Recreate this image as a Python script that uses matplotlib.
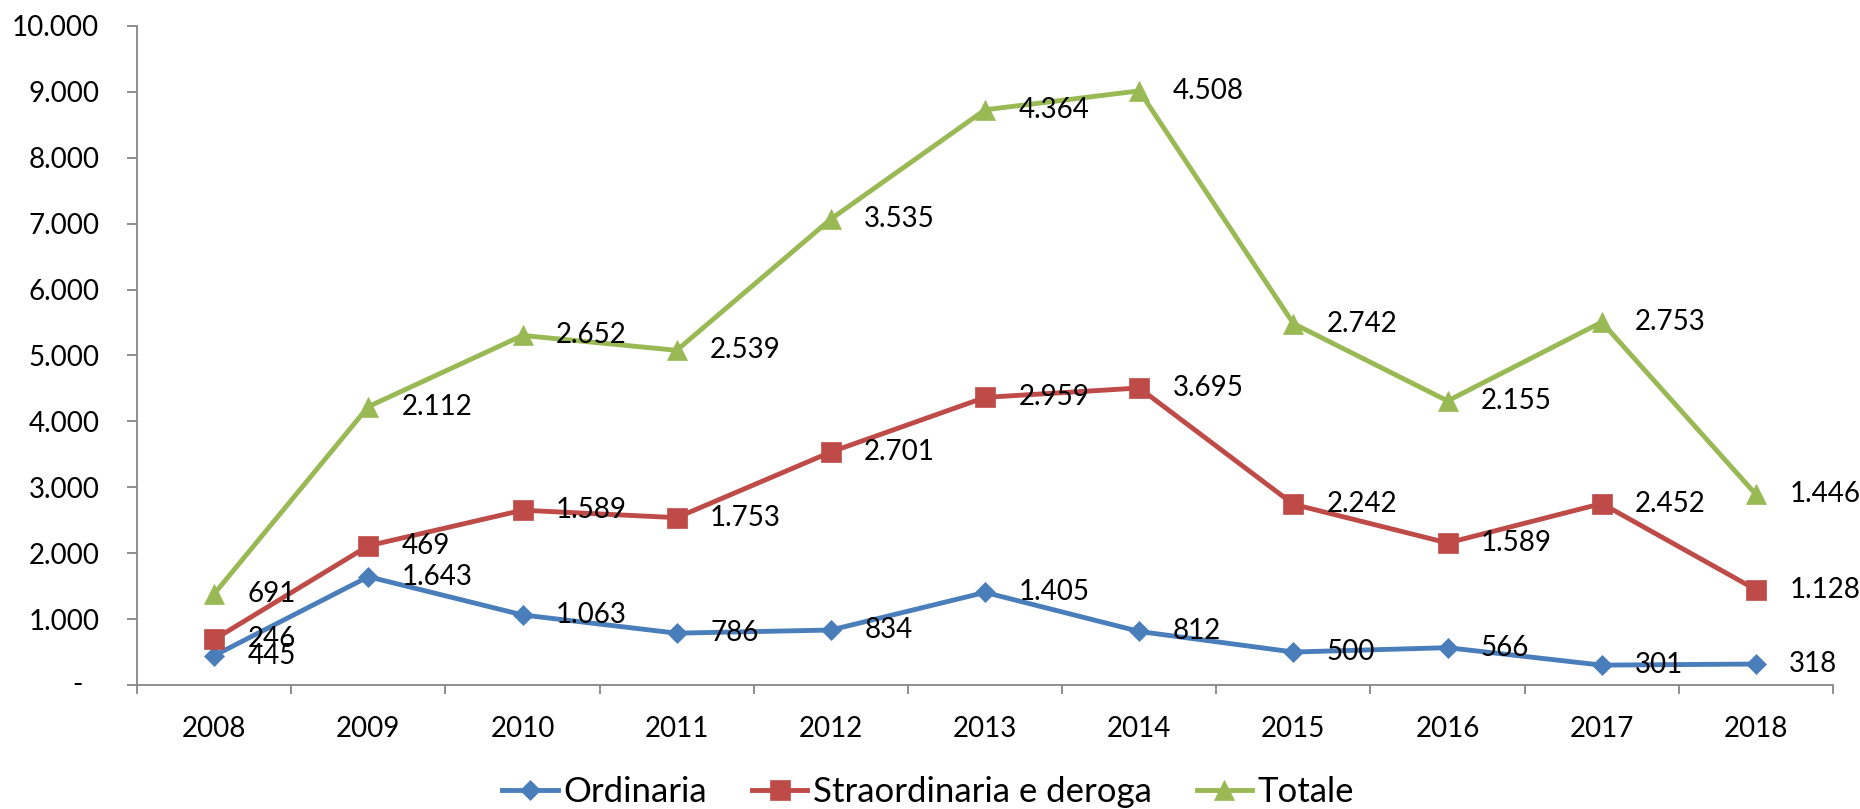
import numpy as np
import matplotlib
matplotlib.use("Agg")
import matplotlib.pyplot as plt
from matplotlib.ticker import FixedLocator, FuncFormatter

plt.rcParams["font.family"] = ["Lato", "DejaVu Sans"]

# Data (each series' own values; the chart stacks them)
years = ["2008", "2009", "2010", "2011", "2012", "2013", "2014", "2015", "2016", "2017", "2018"]
ordinaria = [445, 1643, 1063, 786, 834, 1405, 812, 500, 566, 301, 318]
straordinaria = [246, 469, 1589, 1753, 2701, 2959, 3695, 2242, 1589, 2452, 1128]
totale = [691, 2112, 2652, 2539, 3535, 4364, 4508, 2742, 2155, 2753, 1446]

names = ["Ordinaria", "Straordinaria e deroga", "Totale"]
colors = ["#4A7EBB", "#BE4B48", "#98B954"]
markers = ["D", "s", "^"]
msizes = [10, 14, 15]

def it_num(v):
    return f"{int(v):,}".replace(",", ".")

fig = plt.figure(figsize=(18.6, 8.09), dpi=100)
ax = fig.add_axes([0.0737, 0.1533, 0.9118, 0.8146])

x = np.arange(len(years))
series = [np.array(ordinaria), np.array(straordinaria), np.array(totale)]
stacked = np.cumsum(series, axis=0)

for vals, ys, name, c, m, ms in zip(series, stacked, names, colors, markers, msizes):
    ax.plot(x, ys, color=c, lw=3.5, marker=m, ms=ms, mec=c, mew=0.5, label=name)
    for xi, yi, v in zip(x, ys, vals):
        ax.annotate(it_num(v), (xi, yi), xytext=(24, 0), textcoords="offset points",
                    ha="left", va="center", fontsize=20, color="black")

ax.set_xlim(-0.5, len(years) - 0.5)
ax.set_ylim(0, 10000)

# y axis
ax.yaxis.set_major_locator(FixedLocator(np.arange(0, 10001, 1000)))
ax.yaxis.set_major_formatter(FuncFormatter(lambda v, p: "" if v == 0 else it_num(v)))
ax.annotate("-", (0, 0), xycoords=("axes fraction", "data"), xytext=(-39, 0),
            textcoords="offset points", ha="right", va="center", fontsize=20)

# x axis: labels in the middle, ticks on category boundaries
ax.set_xticks(x)
ax.set_xticklabels(years)
ax.set_xticks(np.arange(-0.5, len(years), 1.0), minor=True)

spine_c = "#868686"
for s in ["top", "right"]:
    ax.spines[s].set_visible(False)
for s in ["left", "bottom"]:
    ax.spines[s].set_color(spine_c)
    ax.spines[s].set_linewidth(1.3)

ax.tick_params(axis="y", which="major", length=7.2, width=1.3, color=spine_c,
               pad=20, labelsize=20)
ax.tick_params(axis="x", which="major", length=0, pad=22, labelsize=20)
ax.tick_params(axis="x", which="minor", length=6.5, width=1.3, color=spine_c)

leg = ax.legend(loc="center", bbox_to_anchor=(0.499, 0.021), bbox_transform=fig.transFigure,
                ncol=3, frameon=False, fontsize=25, handlelength=1.6,
                handletextpad=0.15, columnspacing=1.3, markerscale=1.0)

fig.savefig("out.png", dpi=100)
